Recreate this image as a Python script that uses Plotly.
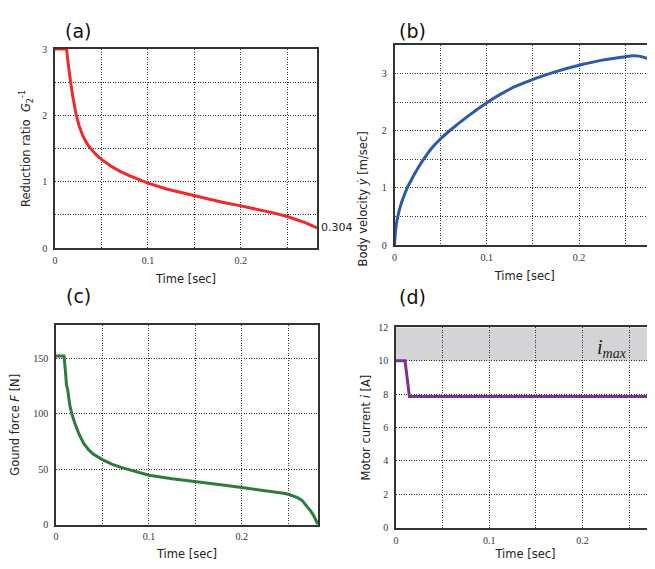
import plotly.graph_objects as go

# ---------------- data ----------------
t_a = [0, 0.0125, 0.0135, 0.015, 0.0168, 0.019, 0.0226, 0.026, 0.03, 0.034, 0.038, 0.044,
       0.05, 0.06, 0.07, 0.08, 0.09, 0.1, 0.12, 0.15, 0.18, 0.2, 0.22, 0.235, 0.25, 0.26,
       0.27, 0.282]
g_a = [3, 3, 2.86, 2.68, 2.5, 2.3, 2.02, 1.84, 1.69, 1.585, 1.505, 1.41,
       1.335, 1.235, 1.155, 1.09, 1.03, 0.977, 0.89, 0.785, 0.69, 0.635, 0.578, 0.53, 0.475, 0.43,
       0.38, 0.304]

t_b = [0, 0.0015, 0.0036, 0.007, 0.01, 0.0138, 0.018, 0.022, 0.026, 0.032, 0.04, 0.05, 0.062,
       0.08, 0.1, 0.115, 0.131, 0.15, 0.175, 0.2, 0.225, 0.25, 0.258, 0.265, 0.272, 0.282]
v_b = [0, 0.3, 0.5, 0.71, 0.85, 1.0, 1.13, 1.25, 1.36, 1.51, 1.69, 1.86, 2.03,
       2.26, 2.49, 2.64, 2.775, 2.9, 3.035, 3.145, 3.235, 3.295, 3.31, 3.305, 3.275, 3.2]

t_c = [0, 0.0086, 0.0105, 0.0112, 0.0125, 0.0135, 0.015, 0.017, 0.02, 0.025, 0.03, 0.035,
       0.04, 0.05, 0.06, 0.07, 0.08, 0.09, 0.1, 0.125, 0.15, 0.175, 0.2, 0.225, 0.235, 0.245,
       0.25, 0.255, 0.26, 0.265, 0.27, 0.274, 0.277, 0.28, 0.282]
f_c = [152, 152, 135, 126, 122, 116, 107, 100, 92, 81, 73, 67.5,
       63.5, 58.5, 54.5, 51.5, 49, 47, 44.5, 41.2, 38.8, 36, 33.3, 30.8, 29.6, 28.2,
       27.3, 26.0, 24.2, 21.6, 16.8, 12.3, 8.5, 4.0, 0]

t_d = [0, 0.0097, 0.0144, 0.282]
i_d = [10, 10, 7.85, 7.85]

i_max = 10
i_top = 12

# ---------------- layout helpers ----------------
# the page body has an 8px margin, so the figure starts at window pixel (8, 8)
OFF = 8
W, H = 655 - OFF, 569 - 2 * OFF


def px_x(p):
    return (p - OFF) / W


def px_y(p):
    return 1 - (p - OFF) / H


def dom_x(p0, p1):
    return [px_x(p0), min(px_x(p1), 1.0)]


def dom_y(top, bot):
    return [px_y(bot), px_y(top)]


tick_font = dict(family="Liberation Serif", size=10, color="#333")
title_font = dict(family="DejaVu Sans", size=11.5, color="#222")
grid = dict(showgrid=True, gridcolor="#333", griddash="1px,1.5px", gridwidth=1,
            zeroline=False, ticks="", showline=True, linecolor="#333", linewidth=1.6,
            tickfont=tick_font, automargin=False)

xt_vals = [0, 0.05, 0.1, 0.15, 0.2, 0.25]
xt_text = ["0", "", "0.1", "", "0.2", ""]

fig = go.Figure()
fig.add_trace(go.Scatter(x=t_a, y=g_a, xaxis="x", yaxis="y", mode="lines",
                         line=dict(color="#ee2a2a", width=3), showlegend=False))
fig.add_trace(go.Scatter(x=t_b, y=v_b, xaxis="x2", yaxis="y2", mode="lines",
                         line=dict(color="#2b5ba8", width=3, shape="spline", smoothing=0.8),
                         showlegend=False))
fig.add_trace(go.Scatter(x=t_c, y=f_c, xaxis="x3", yaxis="y3", mode="lines",
                         line=dict(color="#2f7b3b", width=3), showlegend=False))
fig.add_trace(go.Scatter(x=t_d, y=i_d, xaxis="x4", yaxis="y4", mode="lines",
                         line=dict(color="#7b318f", width=3), showlegend=False))

xcommon = dict(tickvals=xt_vals, ticktext=xt_text, ticklabelstandoff=2,
               title=dict(text="Time [sec]", font=title_font, standoff=10), **grid)

fig.update_layout(
    width=W, height=H, margin=dict(l=0, r=0, t=0, b=0, autoexpand=False),
    paper_bgcolor="white", plot_bgcolor="white", showlegend=False,
    xaxis=dict(domain=dom_x(55, 317), range=[0, 0.282], anchor="y", mirror=True, **xcommon),
    yaxis=dict(domain=dom_y(49, 248), range=[0, 3], anchor="x", mirror=True,
               tickvals=[0, 0.5, 1, 1.5, 2, 2.5, 3], ticktext=["0", "", "1", "", "2", "", "3"],
               ticklabelstandoff=4,
               title=dict(text="Reduction ratio  <i>G</i><sub>2</sub><sup>-1</sup>",
                          font=title_font, standoff=9), **grid),
    xaxis2=dict(domain=dom_x(394.5, 655), range=[0, 0.2822], anchor="y2", mirror=True, **xcommon),
    yaxis2=dict(domain=dom_y(45, 245), range=[0, 3.5], anchor="x2", mirror=False,
                tickvals=[0, 0.5, 1, 1.5, 2, 2.5, 3], ticktext=["0", "", "1", "", "2", "", "3"],
                ticklabelstandoff=4, **grid),
    xaxis3=dict(domain=dom_x(56, 318), range=[0, 0.282], anchor="y3", mirror=True, **xcommon),
    yaxis3=dict(domain=dom_y(325, 524.5), range=[0, 180], anchor="x3", mirror=True,
                tickvals=[0, 50, 100, 150], ticklabelstandoff=4,
                title=dict(text="Gound force <i>F</i> [N]", font=title_font, standoff=12),
                **grid),
    xaxis4=dict(domain=dom_x(396, 655), range=[0, 0.2776], anchor="y4", mirror=True, **xcommon),
    yaxis4=dict(domain=dom_y(327.3, 527.7), range=[0, 12], anchor="x4", mirror=False,
                tickvals=[0, 2, 4, 6, 8, 10, 12], ticklabelstandoff=4,
                title=dict(text="Motor current <i>i</i> [A]", font=title_font, standoff=5),
                **grid),
)

fig.add_shape(type="rect", xref="x4 domain", yref="y4", x0=0, x1=1, y0=i_max, y1=i_top,
              fillcolor="#d4d4d6", line=dict(width=0), layer="below")

# y-axis title of panel (b) sits above the centre of its axis in the reference
fig.add_annotation(text="Body velocity <i>ẏ</i> [m/sec]", x=px_x(363), y=px_y(130),
                   xref="paper", yref="paper", textangle=-90, showarrow=False,
                   font=title_font)

for lab, px, py in [("(a)", 63, 18), ("(b)", 412, 18), ("(c)", 64, 296), ("(d)", 412, 297)]:
    fig.add_annotation(text=lab, x=px_x(px), y=px_y(py), xref="paper", yref="paper",
                       showarrow=False, font=dict(family="DejaVu Sans", size=19, color="#111"))

fig.add_annotation(text="0.304", x=t_a[-1], y=g_a[-1], xref="x", yref="y", xanchor="left",
                   xshift=2, showarrow=False, font=dict(family="DejaVu Sans", size=11, color="#222"))
fig.add_annotation(text="<i>i<sub>max</sub></i>", x=0.2315, y=10.75, xref="x4", yref="y4",
                   showarrow=False, font=dict(family="Liberation Serif", size=20, color="#222"))

fig.write_html("out.html")
